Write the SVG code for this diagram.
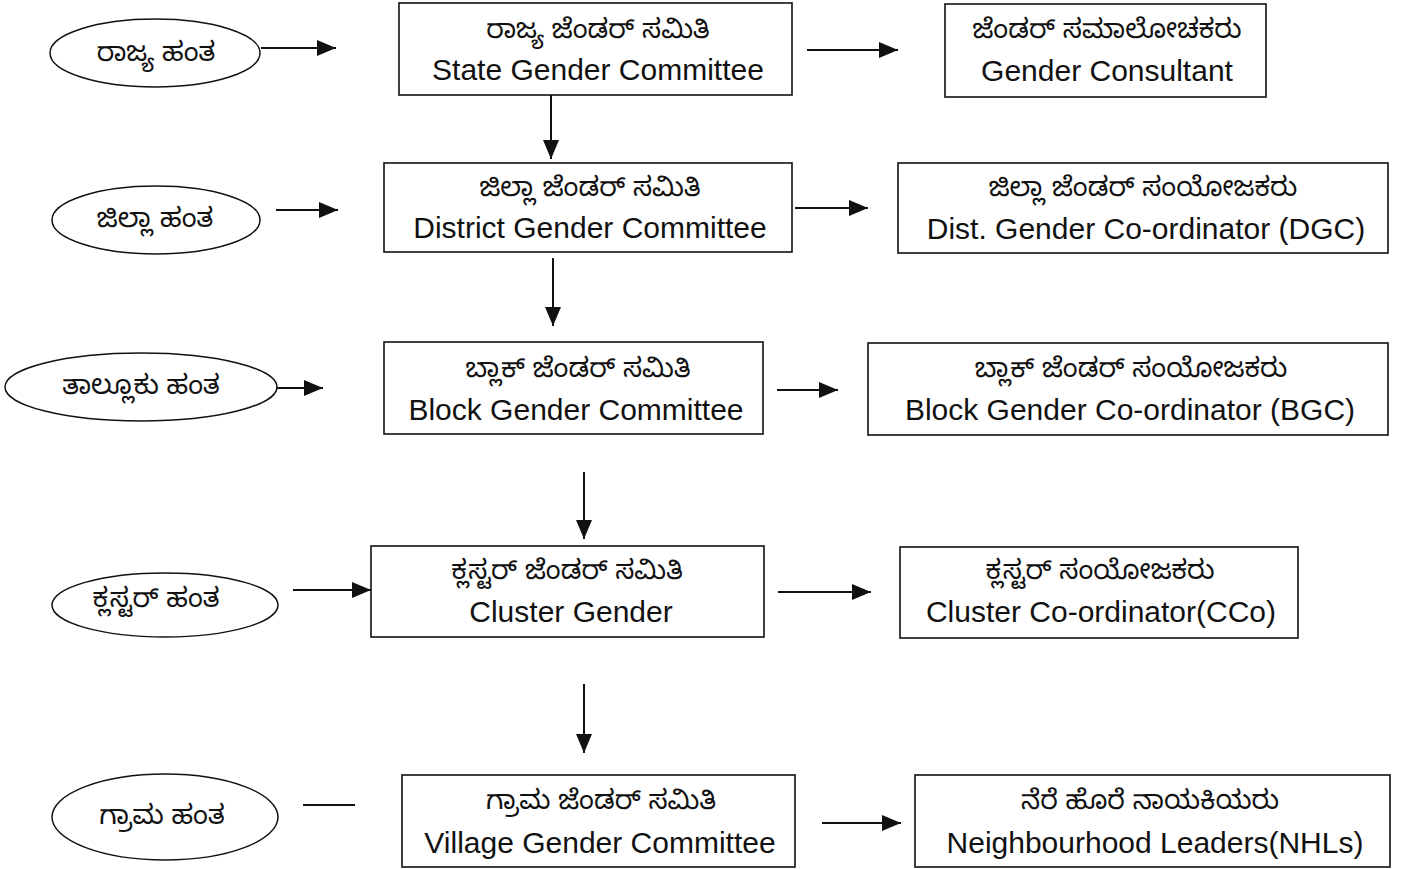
<svg xmlns="http://www.w3.org/2000/svg" width="1411" height="869" viewBox="0 0 1411 869">
<style>
.box{fill:#fff;stroke:#111;stroke-width:1.6}
.ell{fill:#fff;stroke:#111;stroke-width:1.5}
.kn{font-family:"Noto Sans Kannada","Noto Sans","DejaVu Sans",sans-serif;font-size:27px;fill:#111;text-anchor:middle}
.en{font-family:"Liberation Sans",Arial,sans-serif;font-size:30px;fill:#111;text-anchor:middle}
.c{stroke:#111;stroke-width:2;fill:none}
.ca{stroke:#111;stroke-width:2;fill:none;marker-end:url(#ah)}
</style>
<defs>
<marker id="ah" markerUnits="userSpaceOnUse" markerWidth="20" markerHeight="16" refX="19" refY="8" orient="auto">
<path d="M0,0 L19,8 L0,16 Z" fill="#111"/>
</marker>
</defs>
<rect width="1411" height="869" fill="#fff"/>
<g id="connectors">
<line class="ca" x1="261" y1="48" x2="336" y2="48"/>
<line class="ca" x1="276" y1="210" x2="338" y2="210"/>
<line class="ca" x1="277" y1="388" x2="323" y2="388"/>
<line class="ca" x1="293" y1="590" x2="371" y2="590"/>
<line class="c" x1="303" y1="805" x2="355" y2="805"/>
<line class="ca" x1="807" y1="50" x2="898" y2="50"/>
<line class="ca" x1="795" y1="208" x2="868" y2="208"/>
<line class="ca" x1="777" y1="390" x2="838" y2="390"/>
<line class="ca" x1="778" y1="592" x2="871" y2="592"/>
<line class="ca" x1="822" y1="823" x2="901" y2="823"/>
<line class="ca" x1="551" y1="95" x2="551" y2="159"/>
<line class="ca" x1="553" y1="258" x2="553" y2="326"/>
<line class="ca" x1="584" y1="472" x2="584" y2="539"/>
<line class="ca" x1="584" y1="684" x2="584" y2="753"/>
</g>
<g id="level-state">
<ellipse class="ell" cx="155" cy="53" rx="105" ry="34"/>
<text class="kn" x="156" y="61">ರಾಜ್ಯ ಹಂತ</text>
</g>
<g id="level-district">
<ellipse class="ell" cx="156" cy="220" rx="104" ry="34"/>
<text class="kn" x="155" y="227">ಜಿಲ್ಲಾ ಹಂತ</text>
</g>
<g id="level-taluk">
<ellipse class="ell" cx="141" cy="387" rx="136" ry="34"/>
<text class="kn" x="141" y="394">ತಾಲ್ಲೂಕು ಹಂತ</text>
</g>
<g id="level-cluster">
<ellipse class="ell" cx="165" cy="605" rx="113" ry="32"/>
<text class="kn" x="156" y="607">ಕ್ಲಸ್ಟರ್ ಹಂತ</text>
</g>
<g id="level-village">
<ellipse class="ell" cx="165" cy="817" rx="113" ry="43"/>
<text class="kn" x="162" y="824">ಗ್ರಾಮ ಹಂತ</text>
</g>
<g id="state-committee">
<rect class="box" x="399" y="3" width="393" height="92"/>
<text class="kn" x="598" y="38">ರಾಜ್ಯ ಜೆಂಡರ್ ಸಮಿತಿ</text>
<text class="en" x="598" y="80">State Gender Committee</text>
</g>
<g id="gender-consultant">
<rect class="box" x="945" y="4" width="321" height="93"/>
<text class="kn" x="1107" y="38">ಜೆಂಡರ್ ಸಮಾಲೋಚಕರು</text>
<text class="en" x="1107" y="81">Gender Consultant</text>
</g>
<g id="district-committee">
<rect class="box" x="384" y="163" width="408" height="89"/>
<text class="kn" x="590" y="196">ಜಿಲ್ಲಾ ಜೆಂಡರ್ ಸಮಿತಿ</text>
<text class="en" x="590" y="238">District Gender Committee</text>
</g>
<g id="district-coordinator">
<rect class="box" x="898" y="163" width="490" height="90"/>
<text class="kn" x="1143" y="196">ಜಿಲ್ಲಾ ಜೆಂಡರ್ ಸಂಯೋಜಕರು</text>
<text class="en" x="1146" y="239">Dist. Gender Co-ordinator (DGC)</text>
</g>
<g id="block-committee">
<rect class="box" x="384" y="342" width="379" height="92"/>
<text class="kn" x="578" y="377">ಬ್ಲಾಕ್ ಜೆಂಡರ್ ಸಮಿತಿ</text>
<text class="en" x="576" y="420">Block Gender Committee</text>
</g>
<g id="block-coordinator">
<rect class="box" x="868" y="343" width="520" height="92"/>
<text class="kn" x="1131" y="377">ಬ್ಲಾಕ್ ಜೆಂಡರ್ ಸಂಯೋಜಕರು</text>
<text class="en" x="1130" y="420">Block Gender Co-ordinator (BGC)</text>
</g>
<g id="cluster-committee">
<rect class="box" x="371" y="546" width="393" height="91"/>
<text class="kn" x="567" y="579">ಕ್ಲಸ್ಟರ್ ಜೆಂಡರ್ ಸಮಿತಿ</text>
<text class="en" x="571" y="622">Cluster Gender</text>
</g>
<g id="cluster-coordinator">
<rect class="box" x="900" y="547" width="398" height="91"/>
<text class="kn" x="1100" y="579">ಕ್ಲಸ್ಟರ್ ಸಂಯೋಜಕರು</text>
<text class="en" x="1101" y="622">Cluster Co-ordinator(CCo)</text>
</g>
<g id="village-committee">
<rect class="box" x="402" y="775" width="393" height="92"/>
<text class="kn" x="601" y="809">ಗ್ರಾಮ ಜೆಂಡರ್ ಸಮಿತಿ</text>
<text class="en" x="600" y="853">Village Gender Committee</text>
</g>
<g id="neighbourhood-leaders">
<rect class="box" x="915" y="775" width="475" height="92"/>
<text class="kn" x="1150" y="809">ನೆರೆ ಹೊರೆ ನಾಯಕಿಯರು</text>
<text class="en" x="1155" y="853">Neighbourhood Leaders(NHLs)</text>
</g>
</svg>
